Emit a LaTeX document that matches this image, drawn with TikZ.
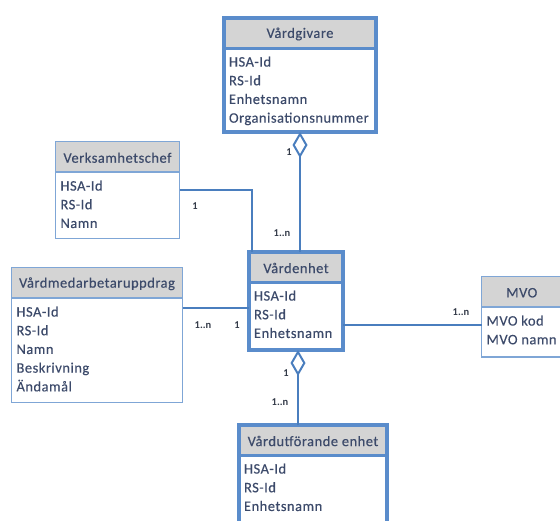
\documentclass[tikz,border=0pt]{standalone}
\usepackage{fontspec}
\setmainfont{Carlito}[LetterSpace=3.5, FakeBold=0.3]
\newfontfamily\tagfont{Carlito}

\usetikzlibrary{arrows.meta,calc}

\definecolor{edgeblue}{HTML}{5A8CCB}
\definecolor{thinblue}{HTML}{7FA6D6}
\definecolor{headgray}{HTML}{D4D4D4}
\definecolor{inkslate}{HTML}{3C4A6A}
\definecolor{linkblue}{HTML}{4A7EBE}
\definecolor{tagink}{HTML}{333A48}

\tikzset{
  x=1pt, y=-1pt,
  every node/.style={inner sep=0pt, outer sep=0pt},
  heavyframe/.style={draw=edgeblue, line width=4pt},
  lightframe/.style={draw=thinblue, line width=1.5pt},
  heavysep/.style={draw=edgeblue, line width=3pt},
  lightsep/.style={draw=thinblue, line width=1.5pt},
  titletext/.style={text=inkslate, font=\fontsize{14.5}{18.7}\selectfont},
  attrtext/.style={text=inkslate, align=left, anchor=north west,
    font=\fontsize{14.5}{18.7}\selectfont},
  link/.style={draw=linkblue, line width=2pt},
  agg/.style={link, -{Diamond[open, length=26pt, width=15pt]}},
  tag/.style={text=tagink, font=\tagfont\fontsize{10.5}{12}\selectfont\bfseries},
}

% \umlclass{name}{frame}{separator}{left}{top}{right}{bottom}{header bottom}{title}, then attributes
\newcommand{\umlclass}[9]{%
  \fill[headgray] (#4,#5) rectangle (#6,#8);
  \draw[#3] (#4,#8) -- (#6,#8);
  \node[#2, minimum width={(#6-#4)*1pt}, minimum height={(#7-#5)*1pt},
        anchor=north west] (#1) at (#4,#5) {};
  \node[titletext] (#1-title) at ({(#4+#6)/2},{(#5+#8)/2+1}) {#9};
  \umlattrs{#1}{#4}{#8}%
}
\newcommand{\umlattrs}[4]{%
  \node[attrtext] (#1-attrs) at (#2+5,#3+8.5) {#4};
}

\begin{document}
\begin{tikzpicture}
  \useasboundingbox (0,0) rectangle (560,520);
  \clip (0,0) rectangle (560,520);

  % entities
  \umlclass{vg}{heavyframe}{heavysep}{224}{18}{376}{132}{48}{Vårdgivare}
    {HSA-Id\\RS-Id\\Enhetsnamn\\Organisationsnummer}
  \umlclass{vc}{lightframe}{lightsep}{55.5}{141.5}{179.5}{238.5}{172}{Verksamhetschef}
    {HSA-Id\\RS-Id\\Namn}
  \umlclass{vm}{lightframe}{lightsep}{11.5}{267.5}{182.5}{402.5}{298}{Vårdmedarbetaruppdrag}
    {HSA-Id\\RS-Id\\Namn\\Beskrivning\\Ändamål}
  \umlclass{ve}{heavyframe}{heavysep}{249}{252}{343}{350}{282}{Vårdenhet}
    {HSA-Id\\RS-Id\\Enhetsnamn}
  \umlclass{mvo}{lightframe}{lightsep}{481.5}{276.5}{562}{357}{307}{MVO}
    {MVO kod\\MVO namn}
  \umlclass{vu}{heavyframe}{heavysep}{239}{425}{387}{540}{455}{Vårdutförande enhet}
    {HSA-Id\\RS-Id\\Enhetsnamn}

  % connectors
  \draw[agg] (ve.north -| vg.south) -- (vg.south);
  \draw[link] (vc.east) -| ($(ve.north west)+(3,0)$);
  \coordinate (vmlink) at ($(vm.north east)+(0,40)$);
  \draw[link] (vmlink) -- (vmlink -| ve.west);
  \coordinate (mvolink) at ($(ve.east)+(0,24)$);
  \draw[link] (mvolink) -- (mvolink -| mvo.west);
  \coordinate (vudown) at ($(ve.south)+(2,0)$);
  \draw[agg] (vudown |- vu.north) -- (vudown);

  % multiplicities
  \node[tag] (m1) at (289,152) {1};
  \node[tag] (m2) at (282,233) {1..n};
  \node[tag] (m3) at (195,206) {1};
  \node[tag] (m4) at (203,325) {1..n};
  \node[tag] (m5) at (237,325) {1};
  \node[tag] (m6) at (461,312) {1..n};
  \node[tag] (m7) at (286,373) {1};
  \node[tag] (m8) at (280,402) {1..n};
\end{tikzpicture}
\end{document}
